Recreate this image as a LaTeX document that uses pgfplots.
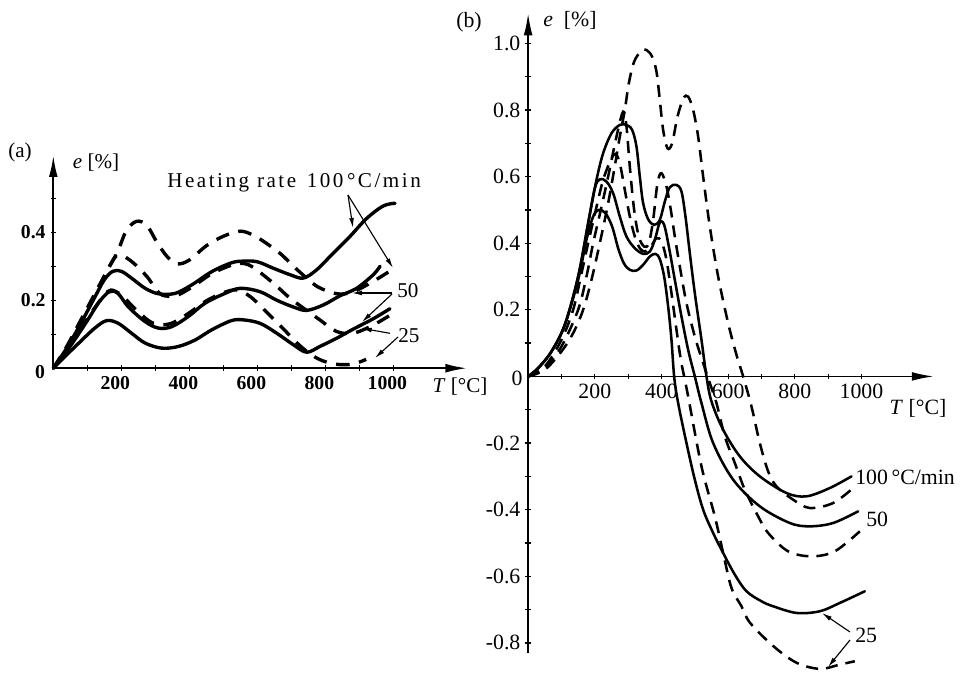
\documentclass[border=0pt]{standalone}
\usepackage{fontspec}
\setmainfont{Liberation Serif}
\newfontfamily\spaced[LetterSpace=12]{Liberation Serif}
\usepackage{pgfplots}
\pgfplotsset{compat=1.18}
\usetikzlibrary{arrows.meta}
\begin{document}
\begin{tikzpicture}[x=0.025cm,y=0.025cm]
\path[use as bounding box] (0,0) rectangle (972,672);
\pgfplotsset{
  common/.style={
    clip=false, enlargelimits=false,
    tick align=inside, major tick length=0.14cm, minor tick length=0.14cm,
    tick style={black, line width=0.9pt},
    /pgf/number format/assume math mode=true,
  },
  sola/.style={black, line width=2.4pt, smooth, tension=0.55, line join=round, line cap=round},
  dsha/.style={black, line width=2.4pt, smooth, tension=0.55, dash pattern=on 0.34cm off 0.24cm},
  solb/.style={black, line width=1.8pt, smooth, tension=0.55, line join=round, line cap=round},
  dshb/.style={black, line width=1.8pt, smooth, tension=0.55, dash pattern=on 0.3cm off 0.2cm},
}
% ---------------- panel (a) ----------------
\begin{axis}[common, at={(1.3325cm,7.5925cm)}, anchor=south west,
  x=0.0085cm, y=8.5cm,
  xmin=0, xmax=1218, ymin=0, ymax=0.627,
  axis lines=left,
  axis line style={line width=1.6pt, -{Latex[length=0.55cm,width=0.22cm]}},
  xtick={200,400,600,800,1000}, xticklabels={200,400,600,800,1000},
  minor xtick={100,300,500,700,900},
  ytick={0.2,0.4}, yticklabels={0.2,0.4}, minor ytick={0.1,0.3,0.5},
  ticklabel style={font=\fontsize{14}{16}\selectfont\bfseries},
  xticklabel style={xshift=-0.15cm},
]
% A dashed top
\addplot[dsha] coordinates {(0,0) (40,0.065) (80,0.14) (120,0.215) (160,0.29) (190,0.345) (215,0.405) (245,0.432) (275,0.42) (305,0.37) (335,0.328) (365,0.307) (400,0.318) (450,0.36) (500,0.388) (550,0.403) (590,0.39) (630,0.365) (670,0.335) (706,0.30) (745,0.265) (780,0.238) (833,0.219) (880,0.224) (940,0.255) (1000,0.292)};
% B solid top
\addplot[sola] coordinates {(0,0) (40,0.06) (80,0.13) (120,0.205) (150,0.26) (175,0.285) (200,0.285) (230,0.265) (270,0.235) (309,0.219) (358,0.22) (407,0.245) (466,0.284) (524,0.31) (560,0.315) (600,0.313) (647,0.294) (696,0.275) (735,0.265) (774,0.289) (823,0.338) (872,0.387) (921,0.44) (970,0.477) (1005,0.485)};
% C dashed middle
\addplot[dsha] coordinates {(0,0) (40,0.06) (80,0.135) (120,0.21) (160,0.29) (185,0.33) (205,0.33) (235,0.31) (275,0.27) (300,0.235) (320,0.215) (360,0.213) (407,0.238) (466,0.278) (524,0.303) (560,0.308) (590,0.295) (647,0.25) (696,0.206) (745,0.17) (784,0.142) (833,0.108) (882,0.103) (941,0.127) (1005,0.165)};
% D dashed bottom
\addplot[dsha] coordinates {(0,0) (40,0.055) (80,0.115) (120,0.175) (150,0.215) (170,0.23) (200,0.215) (240,0.175) (280,0.14) (310,0.128) (350,0.133) (400,0.163) (450,0.198) (500,0.222) (540,0.23) (580,0.21) (630,0.162) (680,0.112) (730,0.062) (780,0.027) (830,0.012) (880,0.012) (920,0.026)};
% E solid middle
\addplot[sola] coordinates {(0,0) (50,0.065) (100,0.14) (135,0.195) (165,0.225) (190,0.22) (221,0.18) (270,0.137) (309,0.118) (348,0.122) (397,0.152) (446,0.191) (505,0.22) (550,0.235) (608,0.225) (657,0.20) (706,0.18) (745,0.17) (794,0.186) (843,0.213) (892,0.235) (941,0.275) (961,0.30)};
% F solid bottom
\addplot[sola] coordinates {(0,0) (40,0.04) (73,0.072) (122,0.118) (157,0.14) (191,0.132) (230,0.103) (270,0.074) (319,0.059) (368,0.064) (417,0.083) (466,0.113) (524,0.14) (560,0.142) (608,0.132) (657,0.103) (706,0.069) (745,0.047) (784,0.064) (833,0.088) (882,0.115) (940,0.145) (990,0.175)};
\end{axis}
% ---------------- panel (b) ----------------
\begin{axis}[common, at={(13.2cm,0.4775cm)}, anchor=south west,
  x=0.008325cm, y=8.325cm,
  xmin=0, xmax=1217, ymin=-0.83, ymax=1.09,
  axis lines=middle,
  axis line style={line width=1.2pt, -{Latex[length=0.55cm,width=0.22cm]}},
  xtick={200,400,600,800,1000}, xticklabels={200,400,600,800,1000},
  minor xtick={100,300,500,700,900},
  ytick={-0.8,-0.6,-0.4,-0.2,0.2,0.4,0.6,0.8,1.0},
  yticklabels={-0.8,-0.6,-0.4,-0.2,0.2,0.4,0.6,0.8,1.0},
  minor ytick={-0.7,-0.5,-0.3,-0.1,0.1,0.3,0.5,0.7,0.9},
  ticklabel style={font=\fontsize{15.5}{18}\selectfont},
]
% S100
\addplot[solb] coordinates {(0,0) (30,0.025) (70,0.075) (110,0.155) (150,0.30) (180,0.46) (205,0.59) (225,0.67) (250,0.73) (275,0.755) (295,0.755) (312,0.74) (325,0.69) (335,0.60) (345,0.52) (360,0.472) (378,0.455) (395,0.47) (410,0.525) (425,0.568) (445,0.575) (460,0.555) (472,0.48) (485,0.37) (500,0.25) (520,0.11) (535,0.0) (550,-0.075) (585,-0.16) (635,-0.24) (695,-0.30) (775,-0.35) (835,-0.36) (905,-0.335) (970,-0.30)};
% S50
\addplot[solb] coordinates {(0,0) (30,0.025) (70,0.075) (110,0.155) (150,0.30) (180,0.46) (200,0.565) (215,0.592) (235,0.585) (255,0.55) (275,0.48) (295,0.42) (320,0.385) (345,0.368) (365,0.375) (380,0.41) (395,0.462) (408,0.455) (422,0.39) (440,0.29) (460,0.18) (480,0.08) (500,0.0) (520,-0.08) (555,-0.20) (615,-0.31) (695,-0.39) (785,-0.44) (845,-0.45) (915,-0.44) (990,-0.405)};
% S25
\addplot[solb] coordinates {(0,0) (30,0.025) (70,0.075) (110,0.155) (150,0.29) (175,0.41) (195,0.48) (212,0.50) (232,0.49) (252,0.45) (270,0.385) (287,0.34) (305,0.32) (325,0.318) (345,0.335) (365,0.36) (382,0.368) (395,0.352) (408,0.30) (420,0.21) (430,0.11) (438,0.0) (450,-0.08) (475,-0.20) (500,-0.31) (525,-0.40) (555,-0.47) (585,-0.53) (620,-0.595) (655,-0.645) (700,-0.675) (735,-0.69) (805,-0.71) (875,-0.705) (935,-0.68) (1010,-0.645)};
% D100
\addplot[dshb] coordinates {(0,0) (50,0.02) (100,0.075) (135,0.13) (165,0.2) (190,0.29) (215,0.4) (240,0.52) (258,0.62) (275,0.72) (290,0.80) (302,0.88) (318,0.945) (340,0.978) (355,0.98) (372,0.96) (385,0.915) (395,0.83) (405,0.74) (418,0.685) (432,0.70) (448,0.78) (466,0.835) (480,0.84) (495,0.80) (510,0.72) (525,0.60) (545,0.45) (570,0.30) (600,0.16) (625,0.065) (645,0.0) (670,-0.09) (695,-0.20) (720,-0.285) (745,-0.33) (795,-0.37) (845,-0.395) (915,-0.38) (975,-0.335)};
% D50
\addplot[dshb] coordinates {(0,0) (50,0.025) (100,0.09) (150,0.2) (175,0.3) (195,0.40) (218,0.5) (240,0.6) (265,0.72) (285,0.795) (295,0.75) (305,0.63) (318,0.50) (332,0.42) (348,0.39) (362,0.40) (375,0.47) (388,0.58) (400,0.61) (415,0.57) (428,0.50) (440,0.42) (455,0.33) (475,0.22) (500,0.12) (525,0.04) (545,-0.02) (565,-0.08) (590,-0.18) (620,-0.26) (650,-0.34) (690,-0.42) (720,-0.47) (780,-0.525) (850,-0.54) (920,-0.525) (995,-0.465)};
% D25
\addplot[dshb] coordinates {(0,0) (50,0.03) (100,0.11) (135,0.2) (158,0.3) (180,0.4) (203,0.5) (225,0.59) (248,0.65) (262,0.668) (275,0.64) (290,0.56) (305,0.48) (320,0.42) (335,0.385) (350,0.375) (368,0.39) (385,0.415) (400,0.405) (415,0.35) (430,0.25) (445,0.14) (458,0.05) (468,0.0) (480,-0.06) (520,-0.27) (560,-0.42) (585,-0.53) (610,-0.635) (640,-0.69) (666,-0.74) (736,-0.81) (806,-0.86) (876,-0.878) (935,-0.865) (980,-0.855)};
\end{axis}
% ---------------- texts (a) ----------------
\begin{scope}[every node/.style={font=\fontsize{15}{17}\selectfont}]
\node at (20,520) {(a)};
\node at (96,509) {\textit{e} [\%]};
\node[anchor=west, inner sep=0pt] at (167,489) {\spaced Heating rate\enspace 100\,°C/min};
\node[anchor=west, inner sep=0pt] at (397,381) {50};
\node[anchor=west, inner sep=0pt] at (398,336) {25};
\node at (460,285) {\textit{T} [°C]};
\node[font=\fontsize{14}{16}\selectfont\bfseries] at (40,300) {0};
\end{scope}
\begin{scope}[-{Latex[length=0.25cm,width=0.12cm]}, line width=0.8pt]
\draw (348,477) -- (353,444);
\draw (348,477) -- (393,404);
\draw (392,379) -- (352,379);
\draw (392,378) -- (362,350);
\draw (390,338.7) -- (361.7,343.7);
\draw (398,335) -- (375,314);
\end{scope}
% ---------------- texts (b) ----------------
\begin{scope}[every node/.style={font=\fontsize{15.5}{18}\selectfont}]
\node at (469,650) {(b)};
\node at (570,652) {\textit{e}\enspace[\%]};
\node at (918,264) {\textit{T} [°C]};
\node at (517,294) {0};
\node[anchor=west, inner sep=0pt] at (855,195) {100\,°C/min};
\node[anchor=west, inner sep=0pt] at (866,153) {50};
\node[anchor=west, inner sep=0pt] at (855,37) {25};
\end{scope}
\begin{scope}[-{Latex[length=0.25cm,width=0.12cm]}, line width=0.8pt]
\draw (850,40) -- (822,59);
\draw (850,32) -- (828,5);
\end{scope}
\end{tikzpicture}
\end{document}
